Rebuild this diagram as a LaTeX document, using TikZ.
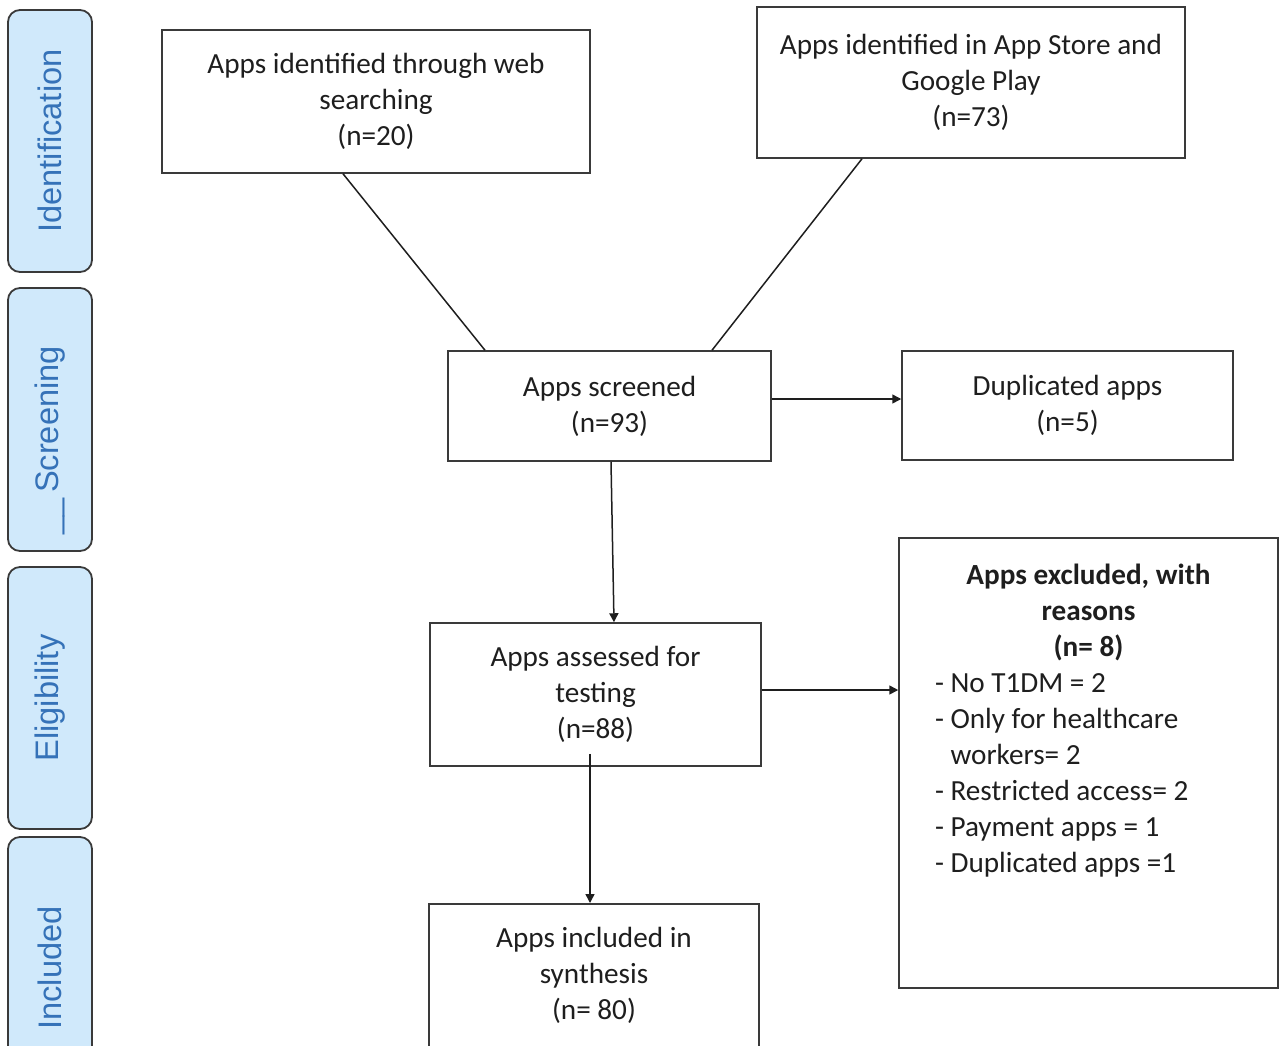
\documentclass[tikz,border=0pt]{standalone}
\usepackage{fontspec}
\setmainfont{Carlito}
\newfontfamily\phasefont{Liberation Sans}
\usetikzlibrary{positioning,arrows.meta,calc}
\definecolor{phasefill}{HTML}{D0E9FB}
\definecolor{phasetext}{HTML}{3572B8}
\definecolor{edgegray}{HTML}{3A3A3A}
\definecolor{inkgray}{HTML}{1E1E1E}

\begin{document}
\begin{tikzpicture}[
  x=0.5pt, y=-0.5pt,
  box/.style={draw=edgegray, line width=0.75pt, align=center, inner sep=0pt, text=inkgray,
    font=\fontsize{14.6}{18}\selectfont, execute at begin node={\rule{0pt}{13.7pt}}},
  phase/.style={draw=edgegray, fill=phasefill, rounded corners=6pt, line width=0.9pt, rotate=90,
    minimum height=42pt, text=phasetext, font=\phasefont\fontsize{16.3}{19}\selectfont},
  arr/.style={-{Triangle[length=4.5pt, width=4.5pt]}, line width=0.75pt, draw=inkgray},
  link/.style={line width=0.75pt, draw=inkgray}]
\useasboundingbox (0,0) rectangle (1280,1045);
% stage labels on the left
\node[phase, minimum width=131pt] (ident) at (50,141) {Identification};
\node[phase, minimum width=131.5pt] (screen) at (50,419.5) {\llap{\_\_\,}Screening};
\node[phase, minimum width=131pt] (elig) at (50,698) {Eligibility};
\node[phase, minimum width=131pt] (incl) at (50,968) {Included};
% flow boxes
\node[box, minimum width=214pt, minimum height=71.5pt] (web) at (376,101.5)
  {Apps identified through web\\searching\\(n=20)};
\node[box, minimum width=214pt, minimum height=75.5pt] (store) at (971,82.5)
  {Apps identified in App Store and\\Google Play\\(n=73)};
\node[box, minimum width=161.5pt, minimum height=55pt] (screened) at (609.5,406)
  {Apps screened\\(n=93)};
\node[box, minimum width=165.5pt, minimum height=54.5pt] (dup) at (1067.5,405.5)
  {Duplicated apps\\(n=5)};
\node[box, minimum width=165.5pt, minimum height=71.5pt] (assessed) at (595.5,694.5)
  {Apps assessed for\\testing\\(n=88)};
\node[box, minimum width=165pt, minimum height=71.5pt, anchor=north] (included) at (594,903)
  {Apps included in\\synthesis\\(n= 80)};
\node[box, align=left] (excluded) at (1088.5,763)
  {\parbox[c][225pt][t]{189.5pt}{\vspace*{13pt}%
   {\centering\bfseries Apps excluded, with\\reasons\\(n= 8)\par}%
   \leftskip=18pt
   - No T1DM = 2\\
   - Only for healthcare\\
   \hphantom{- }workers= 2\\
   - Restricted access= 2\\
   - Payment apps = 1\\
   - Duplicated apps =1\par}};
% connectors
\draw[link] ($(web.south)+(-33,0)$) -- ($(screened.north)+(-124.5,0)$);
\draw[link] ($(store.south)+(-109,0)$) -- ($(screened.north)+(102.5,0)$);
\coordinate (dupexit) at ($(screened.east)+(0,-7)$);
\draw[arr] (dupexit) -- (dupexit -| dup.west);
\draw[arr] ($(screened.south)+(1.5,0)$) -- ($(assessed.north)+(18.5,0)$);
\coordinate (exclexit) at ($(assessed.east)+(0,-4.5)$);
\draw[arr] (exclexit) -- (exclexit -| excluded.west);
\draw[arr] ($(assessed.south)+(-5.5,-13)$) -- ($(included.north)+(-4,0)$);
\end{tikzpicture}
\end{document}
